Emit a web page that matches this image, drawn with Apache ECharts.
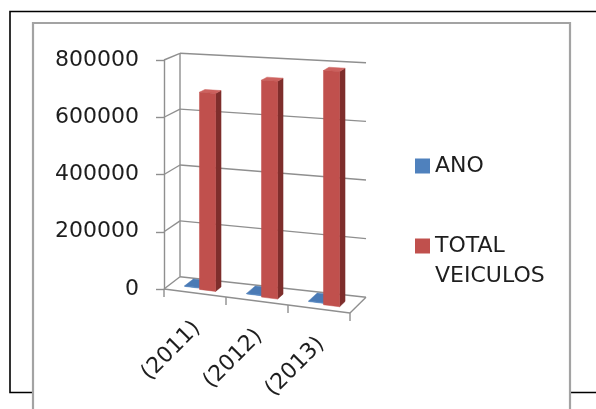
<!DOCTYPE html>
<html>
<head>
<meta charset="utf-8">
<script src="https://cdn.jsdelivr.net/npm/echarts@6/dist/echarts.min.js"></script>
<style>
html,body{margin:0;padding:0;background:#fff;}
#chart{width:596px;height:409px;}
</style>
</head>
<body>
<div id="chart"></div>
<script>
// ---- data ----
const categories = ['(2011)', '(2012)', '(2013)'];
const anoValues = [2011, 2012, 2013];
const totalVeiculosValues = [688000, 745000, 792000];
const yTicks = [0, 200000, 400000, 600000, 800000];
const seriesNames = ['ANO', 'TOTAL VEICULOS'];

// ---- style ----
const FONT = 'DejaVu Sans';
const LINE = '#8f8f8f';
const BLUE = { front: '#4F81BD', side: '#385D8A', top: '#4A7AB5', df: 0.36, db: 0.9 };
const RED = { front: '#C0504D', side: '#7E2E2C', top: '#CD625F', df: 0.28, db: 0.62 };

// pseudo-3D projection built on top of the grid coordinates
function makeProj(cs) {
  const L = cs.x, W = cs.width, B = cs.y + cs.height, H = cs.height;
  return function (px, py, d) {
    const u = (px - L) / W;
    const f = (B - py) / H;
    const fy = B + 24 * u, fs = H * (1 + 0.048 * u);
    const by = B - 12.3 + 20.5 * u, bs = H * (0.9755 + 0.048 * u);
    const x = px + 16 * d;
    const yb = fy + (by - fy) * d;
    const s = fs + (bs - fs) * d;
    return [x, yb - f * s];
  };
}

function line(p1, p2) {
  return { type: 'line', shape: { x1: p1[0], y1: p1[1], x2: p2[0], y2: p2[1] },
           style: { stroke: LINE, lineWidth: 1.4 } };
}
function poly(pts, color) {
  return { type: 'polygon', shape: { points: pts }, style: { fill: color, stroke: color, lineWidth: 0.5 } };
}

function wallRender(params, api) {
  const cs = params.coordSys;
  const P = makeProj(cs);
  const L = cs.x, R = cs.x + cs.width, B = cs.y + cs.height;
  const v = api.value(1);
  const py = api.coord([0, v])[1];
  const children = [
    line(P(L, py, 0), P(L, py, 1)),
    line(P(L, py, 1), P(R, py, 1))
  ];
  if (params.dataIndex === 0) {
    const topY = api.coord([0, yTicks[yTicks.length - 1]])[1];
    children.push(line(P(L, B, 1), P(L, topY, 1)));      // back-left edge
    children.push(line(P(L, B, 0), P(R, B, 0)));         // floor front edge
    children.push(line(P(R, B, 0), P(R, B, 1)));         // floor right edge
    const n = categories.length;
    for (let k = 0; k <= n; k++) {
      const x = L + cs.width * k / n;
      const p = P(x, B, 0);
      children.push(line(p, [p[0], p[1] + 8]));
    }
  }
  return { type: 'group', children: children };
}

function barRender(side, colors) {
  return function (params, api) {
    const cs = params.coordSys;
    const P = makeProj(cs);
    const i = api.value(0), v = api.value(1);
    const c = api.coord([i, v]);
    const y0 = api.coord([i, 0])[1];
    const bw = api.size([1, 0])[0] * 0.26;
    const x0 = side < 0 ? c[0] - bw : c[0];
    const x1 = side < 0 ? c[0] : c[0] + bw;
    const yv = c[1];
    const df = colors.df, db = colors.db;
    return {
      type: 'group',
      children: [
        poly([P(x1, y0, df), P(x1, yv, df), P(x1, yv, db), P(x1, y0, db)], colors.side),
        poly([P(x0, yv, df), P(x1, yv, df), P(x1, yv, db), P(x0, yv, db)], colors.top),
        poly([P(x0, y0, df), P(x1, y0, df), P(x1, yv, df), P(x0, yv, df)], colors.front)
      ]
    };
  };
}

function labelRender(params, api) {
  const cs = params.coordSys;
  const P = makeProj(cs);
  const i = api.value(0);
  const cx = api.coord([i, 0])[0];
  const p = P(cx, cs.y + cs.height, 0);
  return {
    type: 'text',
    x: p[0] + 2, y: p[1] + 32,
    rotation: Math.PI / 4,
    style: { text: categories[i], align: 'right', verticalAlign: 'middle',
             font: '22px "' + FONT + '"', fill: '#1e1e1e' }
  };
}

const chart = echarts.init(document.getElementById('chart'), null, { renderer: 'canvas' });
chart.setOption({
  animation: false,
  backgroundColor: '#fff',
  graphic: {
    elements: [
      { type: 'rect', z: 0, shape: { x: 10, y: 11.5, width: 700, height: 381 },
        style: { fill: '#fff', stroke: '#000', lineWidth: 1.6 } },
      { type: 'rect', z: 0, shape: { x: 33, y: 23, width: 537, height: 420 },
        style: { fill: '#fff', stroke: '#a3a3a3', lineWidth: 2.2 } }
    ]
  },
  grid: { left: 164, top: 60, width: 186, height: 229, containLabel: false },
  xAxis: { type: 'category', data: categories, show: false },
  yAxis: {
    type: 'value', min: 0, max: 800000, interval: 200000,
    axisLine: { show: true, lineStyle: { color: LINE, width: 1.4 } },
    axisTick: { show: true, length: 8, lineStyle: { color: LINE, width: 1.4 } },
    splitLine: { show: false },
    axisLabel: { fontFamily: FONT, fontSize: 22, color: '#1e1e1e', margin: 25, padding: [4, 0, 0, 0],
                 formatter: function (v) { return String(v); } }
  },
  legend: [
    { data: [seriesNames[0]], orient: 'vertical', left: 415, top: 153, padding: 0,
      itemWidth: 15, itemHeight: 15, itemGap: 0, icon: 'rect', selectedMode: false,
      textStyle: { fontFamily: FONT, fontSize: 22, color: '#1e1e1e', lineHeight: 26 } },
    { data: [seriesNames[1]], orient: 'vertical', left: 415, top: 201, padding: 0,
      itemWidth: 15, itemHeight: 15, itemGap: 0, icon: 'rect', selectedMode: false,
      formatter: function () { return '\nTOTAL\nVEICULOS'; },
      textStyle: { fontFamily: FONT, fontSize: 22, color: '#1e1e1e', lineHeight: 30 } }
  ],
  series: [
    { type: 'custom', name: 'walls', clip: false, silent: true, z: 1,
      data: yTicks.map(function (t) { return [0, t]; }), renderItem: wallRender },
    { type: 'custom', name: seriesNames[0], clip: false, z: 2,
      itemStyle: { color: BLUE.front },
      data: anoValues.map(function (v, i) { return [i, v]; }), renderItem: barRender(-1, BLUE) },
    { type: 'custom', name: seriesNames[1], clip: false, z: 3,
      itemStyle: { color: RED.front },
      data: totalVeiculosValues.map(function (v, i) { return [i, v]; }), renderItem: barRender(1, RED) },
    { type: 'custom', name: 'labels', clip: false, silent: true, z: 3,
      data: categories.map(function (c, i) { return [i, 0]; }), renderItem: labelRender }
  ]
});
</script>
</body>
</html>
